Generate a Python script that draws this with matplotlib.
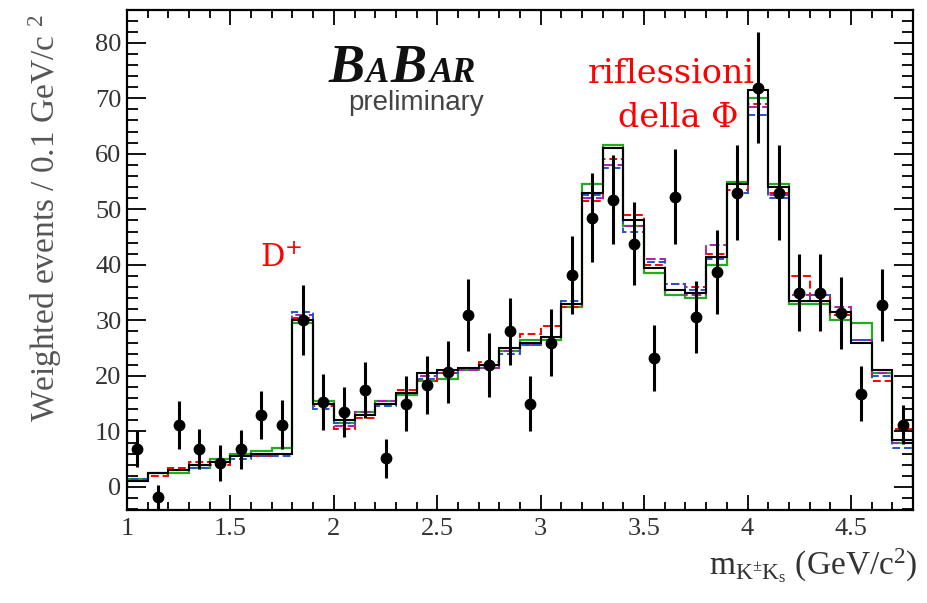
import numpy as np
import matplotlib
matplotlib.use('Agg')
import matplotlib.pyplot as plt
from matplotlib.ticker import MultipleLocator

# bin edges 1.0 .. 4.8 in steps of 0.1
edges = np.round(np.arange(1.0, 4.81, 0.1), 2)
centers = np.round(edges[:-1] + 0.05, 3)

data_y = [6.8, -1.8, 11.2, 6.8, 4.3, 6.8, 13.0, 11.2, 30.0, 15.3,
          13.5, 17.5, 5.2, 15.0, 18.4, 20.7, 31.0, 22.0, 28.0, 15.0,
          26.0, 38.2, 48.5, 51.7, 43.8, 23.2, 52.3, 30.6, 38.7, 53.0,
          71.9, 53.0, 35.0, 35.0, 31.3, 16.8, 32.8, 11.2]
data_err = [3.2, 2.2, 4.3, 3.6, 3.2, 3.5, 4.3, 4.4, 6.3, 5.0,
            4.5, 5.0, 3.5, 5.0, 5.2, 5.5, 6.5, 5.8, 6.0, 5.0,
            6.0, 7.0, 8.0, 8.0, 7.5, 6.0, 8.5, 6.5, 7.5, 8.5,
            10.0, 8.5, 7.0, 7.0, 6.5, 5.0, 6.5, 3.5]

fit_black = [1.0, 2.5, 3.0, 4.0, 4.5, 5.5, 6.0, 6.0, 30.0, 15.0,
             12.0, 13.0, 15.0, 17.0, 20.5, 21.0, 21.5, 22.0, 25.0, 26.0,
             27.0, 33.0, 53.0, 61.0, 48.0, 39.5, 35.5, 35.0, 41.5, 54.5,
             71.5, 54.0, 33.5, 33.5, 31.5, 26.0, 21.0, 8.5]
fit_green = [1.5, 2.5, 2.5, 3.5, 5.0, 6.0, 6.5, 7.0, 29.5, 15.5,
             11.5, 13.5, 15.5, 16.5, 19.0, 19.5, 21.0, 21.5, 24.5, 26.5,
             26.5, 32.5, 54.5, 61.5, 47.0, 38.5, 34.5, 34.0, 40.0, 55.0,
             70.0, 54.5, 33.0, 33.0, 30.0, 29.5, 20.5, 8.0]
fit_red = [1.0, 2.0, 3.5, 4.5, 4.0, 5.5, 5.5, 6.0, 30.5, 14.5,
           10.5, 12.5, 15.0, 17.5, 19.0, 20.5, 21.5, 22.5, 25.0, 27.5,
           29.0, 32.5, 51.5, 59.0, 49.0, 40.0, 36.5, 36.0, 42.0, 53.5,
           69.0, 53.0, 38.0, 34.5, 31.0, 26.5, 19.0, 10.5]
fit_blue = [1.5, 2.5, 3.0, 3.5, 4.5, 5.0, 5.5, 5.5, 31.5, 14.0,
            11.5, 13.0, 14.5, 17.0, 19.5, 20.5, 21.5, 22.0, 24.0, 25.5,
            27.0, 33.5, 52.5, 57.5, 46.0, 40.5, 36.5, 35.5, 41.0, 53.0,
            67.0, 52.0, 33.5, 34.5, 31.5, 26.5, 20.0, 7.0]
fit_magenta = [1.0, 2.5, 3.0, 4.0, 4.5, 5.5, 6.0, 6.0, 31.0, 15.0,
               11.0, 13.5, 15.5, 17.0, 20.0, 21.0, 21.0, 21.5, 24.5, 25.5,
               27.0, 33.0, 52.0, 58.0, 47.0, 41.0, 35.5, 34.5, 43.5, 54.5,
               68.5, 52.5, 34.5, 33.5, 32.5, 26.5, 20.5, 8.0]

fig = plt.figure(figsize=(9.27, 6.03), dpi=100)
ax = fig.add_axes([127/927, 1 - 510/603, (913 - 127)/927, (510 - 10)/603])

ax.stairs(fit_green, edges, color='#22aa22', lw=1.6)
ax.stairs(fit_red, edges, color='red', lw=1.4, ls=(0, (4, 2)))
ax.stairs(fit_magenta, edges, color='#aa22aa', lw=1.4, ls=(0, (5, 2)))
ax.stairs(fit_blue, edges, color='#2255cc', lw=1.4, ls=(0, (4, 2)))
ax.stairs(fit_black, edges, color='black', lw=1.5)

ax.errorbar(centers, data_y, yerr=data_err, fmt='o', color='black',
            ms=7.5, elinewidth=2.2, capsize=0, zorder=5)

ax.set_xlim(1.0, 4.8)
ax.set_ylim(-4.15, 85.9)
ax.xaxis.set_major_locator(MultipleLocator(0.5))
ax.xaxis.set_minor_locator(MultipleLocator(0.1))
ax.yaxis.set_major_locator(MultipleLocator(10))
ax.yaxis.set_minor_locator(MultipleLocator(2))
ax.set_xticks([1, 1.5, 2, 2.5, 3, 3.5, 4, 4.5])
ax.set_xticklabels(['1', '1.5', '2', '2.5', '3', '3.5', '4', '4.5'])
ax.set_yticks(range(0, 81, 10))

ax.tick_params(which='both', direction='in', top=True, right=True,
               width=1.3, colors='black', labelcolor='#333333')
ax.tick_params(axis='x', which='major', length=11, labelsize=19, pad=6)
ax.tick_params(axis='x', which='minor', length=6)
ax.tick_params(axis='y', which='major', length=14, labelsize=19, pad=4)
ax.tick_params(axis='y', which='minor', length=8)
for lab in ax.get_xticklabels() + ax.get_yticklabels():
    lab.set_fontfamily('Liberation Serif')
for sp in ax.spines.values():
    sp.set_linewidth(1.6)

# BaBar logo
logo = dict(family='Liberation Serif', style='italic', weight='bold',
            color='#111111', va='baseline')
fig.text(328/927, 1 - 82/603, 'B', fontsize=39, **logo)
fig.text(366/927, 1 - 82/603, 'A', fontsize=25, **logo)
fig.text(391/927, 1 - 82/603, 'B', fontsize=39, **logo)
fig.text(430/927, 1 - 82/603, 'AR', fontsize=25, **logo)
fig.text(348/927, 1 - 110/603, 'preliminary', fontsize=20,
         family='Liberation Sans', color='#444444', va='baseline')

red = dict(family='DejaVu Serif', color='red', va='baseline')
fig.text(260/927, 1 - 267/603, 'D$^{+}$', fontsize=22, **red)
fig.text(588/927, 1 - 83/603, 'riflessioni', fontsize=24, **red)
fig.text(618/927, 1 - 127/603, 'della Φ', fontsize=24, **red)

plt.rcParams['mathtext.fontset'] = 'custom'
plt.rcParams['mathtext.rm'] = 'Liberation Serif'
plt.rcParams['mathtext.it'] = 'Liberation Serif'

fig.text(45/927, 1 - 15/603, 'Weighted events / 0.1 GeV/c $^{2}$',
         rotation=90, ha='center', va='top', fontsize=24,
         family='Liberation Serif', color='#555555')
fig.text(918/927, 1 - 575/603, r'm$_{\mathrm{K^{\pm}K_{s}}}$ (GeV/c$^{2}$)',
         ha='right', va='baseline', fontsize=24,
         family='Liberation Serif', color='#333333')

fig.savefig('out.png', dpi=100)
